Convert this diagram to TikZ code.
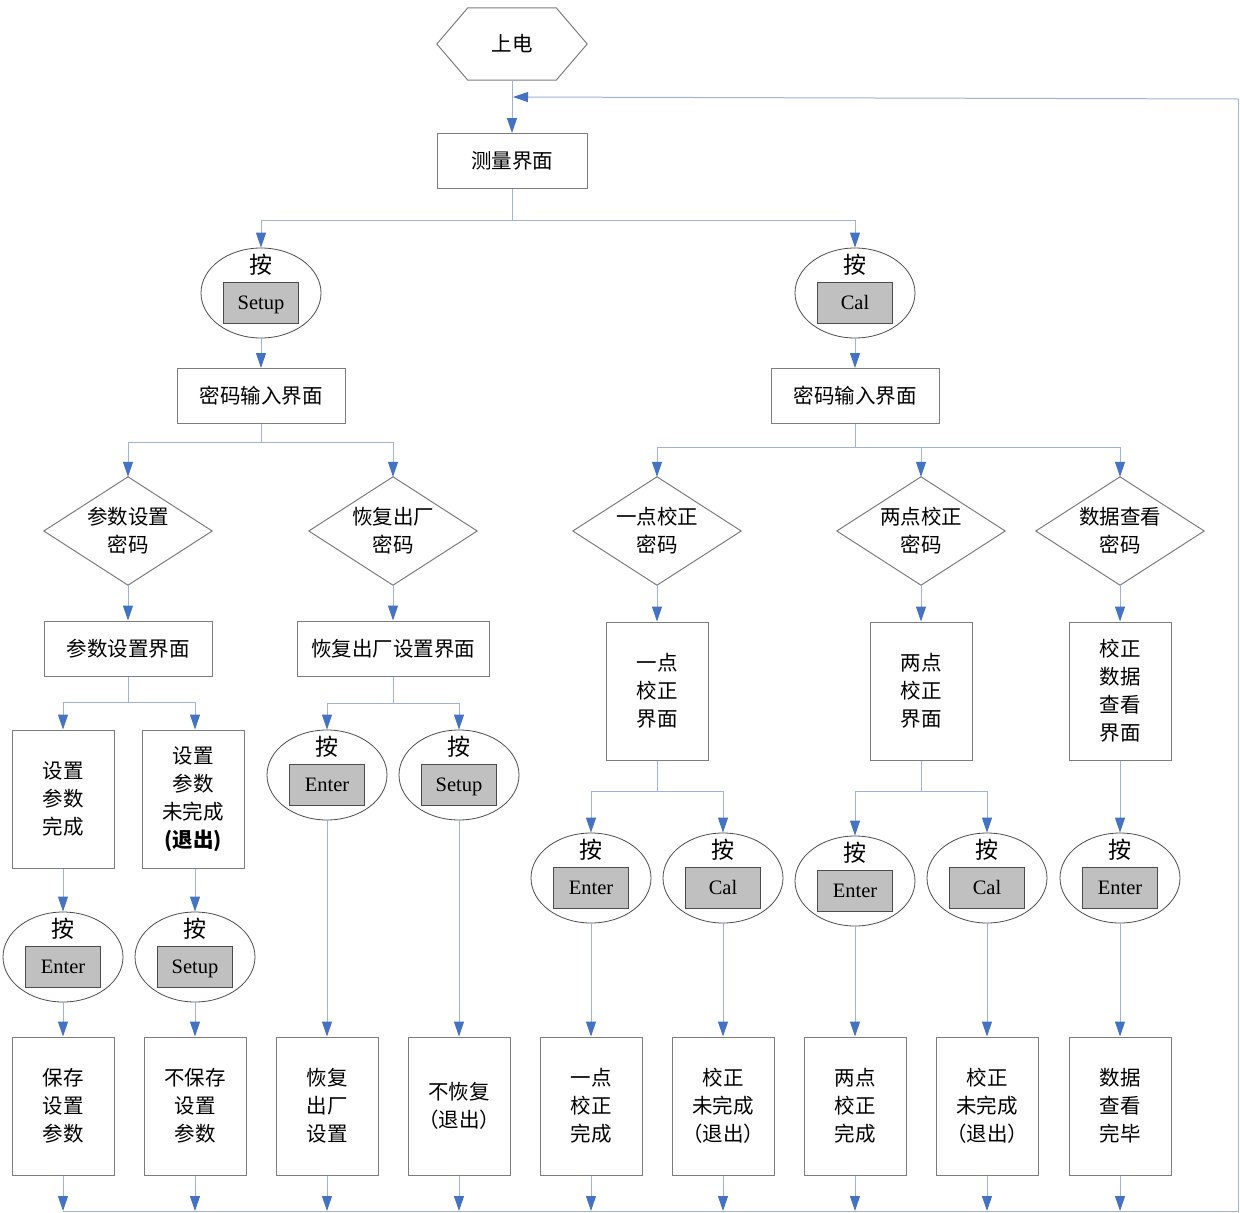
\documentclass[tikz,border=0pt]{standalone}
\usepackage{fontspec}
\setmainfont{Liberation Serif}
\newfontfamily\cjk{Noto Sans CJK SC}
\usetikzlibrary{arrows.meta,shapes.geometric}
\definecolor{linecol}{RGB}{160,178,215}
\definecolor{tipcol}{RGB}{68,114,196}
\definecolor{boxcol}{RGB}{125,125,125}
\definecolor{btnfill}{RGB}{192,192,192}
\tikzset{
 txt/.style={font=\cjk\fontsize{20.5}{28}\selectfont, align=center, inner sep=0pt},
 box/.style={txt, draw=boxcol, line width=1pt},
 tallbox/.style={box, minimum width=102pt, minimum height=138pt},
 widebox/.style={box, minimum height=55pt},
 oval/.style={ellipse, draw=black!70, line width=0.8pt, minimum width=120pt, minimum height=90pt, inner sep=0pt},
 btn/.style={draw=black!70, fill=btnfill, line width=1pt, minimum width=75pt, minimum height=41pt, inner sep=0pt, text height=14pt, text depth=0.8pt, font=\rmfamily\fontsize{20.5}{24}\selectfont},
 presslbl/.style={font=\cjk\fontsize{23}{24}\selectfont, inner sep=0pt},
 diabox/.style={txt, minimum width=168pt, minimum height=108pt},
 conn/.style={draw=linecol, line width=1pt},
 arr/.style={conn, -{Triangle[width=10pt,length=15pt,color=tipcol]}},
 outline/.style={draw=boxcol, line width=1pt},
}
\newcommand\pressnode[3]{%
 \node[oval] (#1) at (#2) {};
 \node[presslbl] (#1-t) at ([yshift=28pt]#1.center) {按};
 \node[btn] (#1-b) at ([yshift=-10pt]#1.center) {#3};
}
\newcommand\dianode[3]{%
 \node[diabox] (#1) at (#2) {#3};
 \draw[outline] (#1.north) -- (#1.east) -- (#1.south) -- (#1.west) -- cycle;
}
\begin{document}
\begin{tikzpicture}[x=1pt,y=-1pt]
\useasboundingbox (0,0) rectangle (1240,1213);
% top
\node[txt, minimum width=150pt, minimum height=72pt] (pow) at (512,44) {上电};
\draw[outline] (pow.west) -- ([xshift=31pt]pow.north west) -- ([xshift=-31pt]pow.north east) -- (pow.east) -- ([xshift=-31pt]pow.south east) -- ([xshift=31pt]pow.south west) -- cycle;
\node[widebox, minimum width=150pt] (meas) at (512,161) {测量界面};
\pressnode{eS}{261,293}{Setup}
\pressnode{eC}{855,293}{Cal}
\node[widebox, minimum width=168pt] (pw1) at (261,396) {密码输入界面};
\node[widebox, minimum width=168pt] (pw2) at (855,396) {密码输入界面};
% diamonds
\dianode{d1}{128,531}{参数设置\\密码}
\dianode{d2}{393,531}{恢复出厂\\密码}
\dianode{d3}{657,531}{一点校正\\密码}
\dianode{d4}{921,531}{两点校正\\密码}
\dianode{d5}{1120,531}{数据查看\\密码}
% screens
\node[widebox, minimum width=168pt] (s1) at (128,648.5) {参数设置界面};
\node[widebox, minimum width=192pt] (s2) at (393,648.5) {恢复出厂设置界面};
\node[tallbox] (s3) at (657,691) {一点\\校正\\界面};
\node[tallbox] (s4) at (921,691) {两点\\校正\\界面};
\node[tallbox] (s5) at (1120,691) {校正\\数据\\查看\\界面};
% parameter branch
\node[tallbox] (c1) at (63,799) {设置\\参数\\完成};
\node[tallbox] (c2) at (193,799) {设置\\参数\\未完成\\{\bfseries (退出)}};
\pressnode{m1}{63,957}{Enter}
\pressnode{m2}{195,957}{Setup}
% other presses
\pressnode{f1}{327,775}{Enter}
\pressnode{f2}{459,775}{Setup}
\pressnode{g1}{591,878}{Enter}
\pressnode{g2}{723,878}{Cal}
\pressnode{h1}{855,881}{Enter}
\pressnode{h2}{987,878}{Cal}
\pressnode{k1}{1120,878}{Enter}
% bottom boxes
\node[tallbox] (o1) at (63,1106) {保存\\设置\\参数};
\node[tallbox] (o2) at (195,1106) {不保存\\设置\\参数};
\node[tallbox] (o3) at (327,1106) {恢复\\出厂\\设置};
\node[tallbox] (o4) at (459,1106) {不恢复\\（退出）};
\node[tallbox] (o5) at (591,1106) {一点\\校正\\完成};
\node[tallbox] (o6) at (723,1106) {校正\\未完成\\（退出）};
\node[tallbox] (o7) at (855,1106) {两点\\校正\\完成};
\node[tallbox] (o8) at (987,1106) {校正\\未完成\\（退出）};
\node[tallbox] (o9) at (1120,1106) {数据\\查看\\完毕};
% feedback coordinates
\coordinate (botL) at (63,1211);
\coordinate (botR) at (1238.5,1211);
\coordinate (topR) at (1238.5,99);
\coordinate (topJ) at (513,97);
% connectors
\draw[arr] (pow.south) -- (meas.north);
\draw[conn] (botL) -- (botR) -- (topR);
\draw[arr] (topR) -- (topJ);
\draw[conn] (meas.south) -- ++(0,31) coordinate (j1);
\draw[arr] (j1) -| (eS.north);
\draw[arr] (j1) -| (eC.north);
\draw[arr] (eS.south) -- (pw1.north);
\draw[arr] (eC.south) -- (pw2.north);
\draw[conn] (pw1.south) -- ++(0,18) coordinate (j2);
\draw[arr] (j2) -| (d1.north);
\draw[arr] (j2) -| (d2.north);
\draw[conn] (pw2.south) -- ++(0,23) coordinate (j3);
\draw[arr] (j3) -| (d3.north);
\draw[arr] (j3) -| (d4.north);
\draw[arr] (j3) -| (d5.north);
\foreach \i in {1,...,5} {\draw[arr] (d\i.south) -- (d\i.south |- s\i.north);}
\draw[conn] (s1.south) -- ++(0,26) coordinate (j4);
\draw[arr] (j4) -| (c1.north);
\draw[arr] (j4) -| ([xshift=2pt]c2.north);
\draw[arr] (c1.south) -- (m1.north);
\draw[arr] ([xshift=2pt]c2.south) -- (m2.north);
\draw[arr] (m1.south) -- (o1.north);
\draw[arr] (m2.south) -- (o2.north);
\draw[conn] (s2.south) -- ++(0,27) coordinate (j5);
\draw[arr] (j5) -| (f1.north);
\draw[arr] (j5) -| (f2.north);
\draw[arr] (f1.south) -- (o3.north);
\draw[arr] (f2.south) -- (o4.north);
\draw[conn] (s3.south) -- ++(0,31) coordinate (j6);
\draw[arr] (j6) -| (g1.north);
\draw[arr] (j6) -| (g2.north);
\draw[arr] (g1.south) -- (o5.north);
\draw[arr] (g2.south) -- (o6.north);
\draw[conn] (s4.south) -- ++(0,31) coordinate (j7);
\draw[arr] (j7) -| (h1.north);
\draw[arr] (j7) -| (h2.north);
\draw[arr] (h1.south) -- (o7.north);
\draw[arr] (h2.south) -- (o8.north);
\draw[arr] (s5.south) -- (k1.north);
\draw[arr] (k1.south) -- (o9.north);
\foreach \i in {1,...,9} {\draw[arr] (o\i.south) -- (o\i.south |- botL);}
\end{tikzpicture}
\end{document}
